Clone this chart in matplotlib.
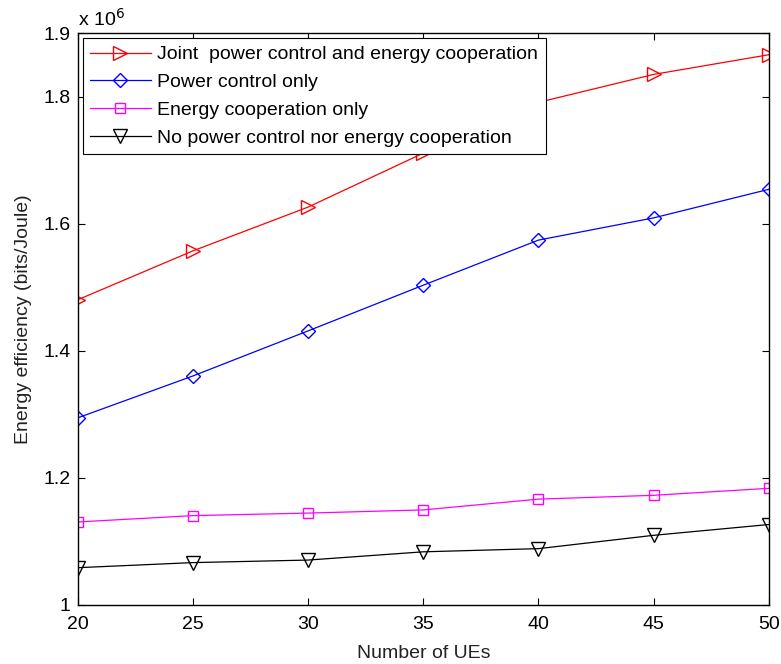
import matplotlib.pyplot as plt

plt.rcParams['font.family'] = ['Liberation Sans', 'DejaVu Sans']

# number of UEs
ues = [20, 25, 30, 35, 40, 45, 50]

# energy efficiency, in units of 1e6 bits/Joule
joint = [1.480, 1.557, 1.626, 1.711, 1.791, 1.835, 1.866]
power_only = [1.294, 1.360, 1.431, 1.503, 1.574, 1.609, 1.654]
coop_only = [1.130, 1.140, 1.144, 1.149, 1.166, 1.172, 1.183]
neither = [1.058, 1.066, 1.070, 1.083, 1.088, 1.109, 1.126]

labels = ['Joint  power control and energy cooperation',
          'Power control only',
          'Energy cooperation only',
          'No power control nor energy cooperation']

x_ticks = [20, 25, 30, 35, 40, 45, 50]
y_ticks = [1, 1.2, 1.4, 1.6, 1.8, 1.9]
y_tick_labels = ['1', '1.2', '1.4', '1.6', '1.8', '1.9']

fig = plt.figure(figsize=(7.81, 6.64), dpi=100)
ax = fig.add_axes([0.0995, 0.0896, 0.885, 0.8605])

lw = 0.9
ax.plot(ues, joint, color='#ff0000', marker='>', markersize=10, mfc='none', lw=lw, label=labels[0])
ax.plot(ues, power_only, color='#0000ff', marker='D', markersize=7.5, mfc='none', lw=lw, label=labels[1])
ax.plot(ues, coop_only, color='#ff00ff', marker='s', markersize=7.5, mfc='none', lw=lw, label=labels[2])
ax.plot(ues, neither, color='black', marker='v', markersize=10, mfc='none', lw=lw, label=labels[3])

ax.set_xlim(20, 50)
ax.set_ylim(1, 1.9)
ax.set_xticks(x_ticks)
ax.set_yticks(y_ticks)
ax.set_yticklabels(y_tick_labels)
ax.tick_params(direction='in', length=5, top=True, right=True, labelsize=14, width=0.8)
ax.tick_params(axis='x', pad=8)
ax.tick_params(axis='y', pad=5)
for s in ax.spines.values():
    s.set_linewidth(1.0)

ax.set_xlabel('Number of UEs', fontsize=14, color='#222222', labelpad=9)
ax.set_ylabel('Energy efficiency (bits/Joule)', fontsize=14, color='#222222', labelpad=8)
ax.text(0, 1.005, r'x 10$^6$', transform=ax.transAxes, fontsize=14, ha='left', va='bottom')

leg = ax.legend(loc='upper left', fontsize=14, fancybox=False, edgecolor='black',
                framealpha=1, handlelength=3.1, labelspacing=0.52, borderaxespad=0.25,
                handletextpad=0.35, borderpad=0.4)
leg.get_frame().set_linewidth(0.8)

fig.savefig('out.png', dpi=100)
